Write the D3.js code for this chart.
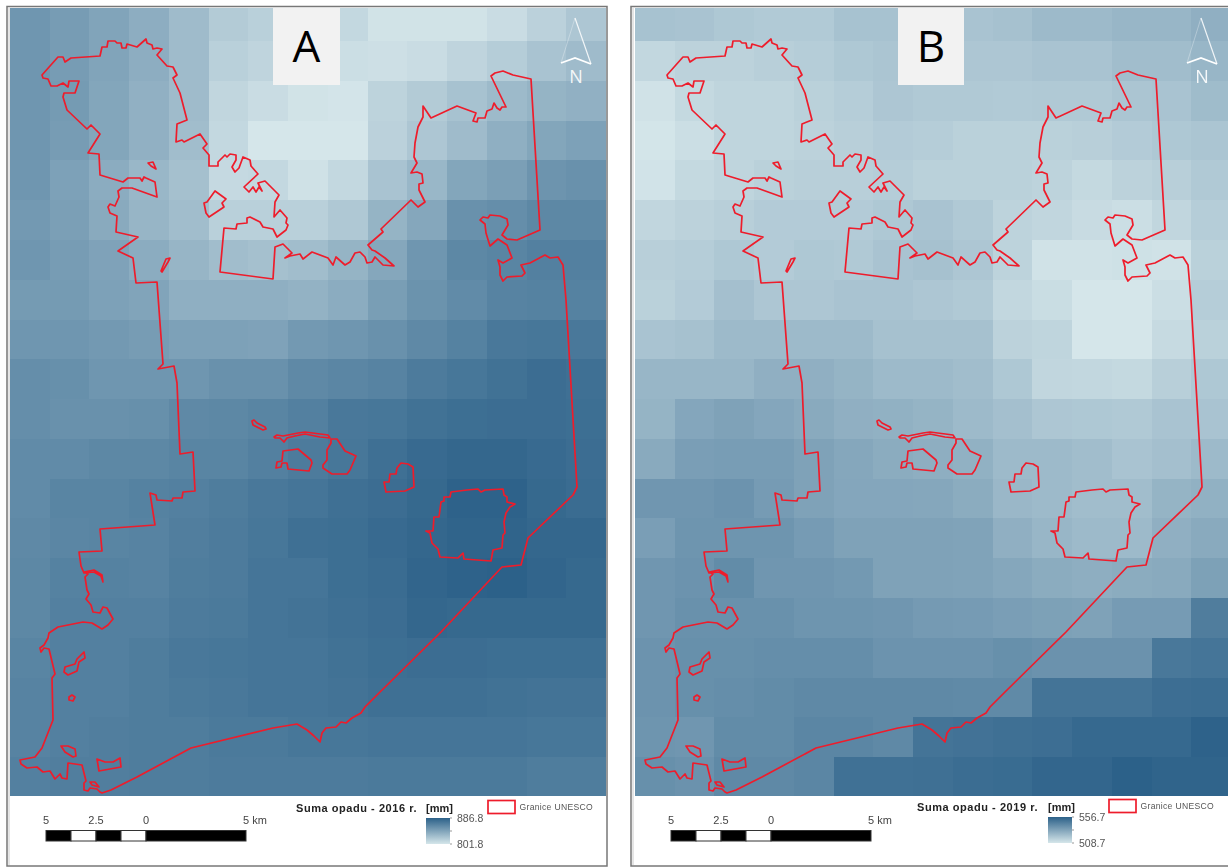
<!DOCTYPE html>
<html>
<head>
<meta charset="utf-8">
<script src="https://cdn.jsdelivr.net/npm/d3@7"></script>
<style>
  html, body { margin: 0; padding: 0; background: #fff; overflow: hidden; }
  svg { display: block; filter: blur(0.4px); }
  text { font-family: "Liberation Sans", Arial, sans-serif; }
</style>
</head>
<body>
<svg width="1228" height="867"></svg>
<script>
// precipitation totals per raster cell [mm], rows north to south
const rain2016 = [
  [853,849,844,838,829,819,816,813,811,804,804,804,808,815,822],
  [853,849,844,838,829,816,813,811,807,806,808,813,818,824,829],
  [853,850,843,836,829,812,808,804,803,814,819,825,830,834,836],
  [853,849,843,836,828,811,802,802,802,815,822,829,837,843,846],
  [853,846,839,832,826,810,811,805,811,824,832,843,847,854,856],
  [851,847,840,833,828,816,816,816,821,834,842,856,858,862,862],
  [853,849,845,839,833,828,826,828,834,842,853,862,864,867,867],
  [850,850,846,844,837,837,837,835,839,848,855,860,865,866,866],
  [853,853,851,849,846,846,845,851,853,856,861,866,872,873,872],
  [858,857,853,853,853,856,856,861,863,865,870,873,876,879,877],
  [858,856,856,857,861,862,864,867,872,873,876,878,879,879,878],
  [860,860,862,862,864,864,867,870,873,877,881,883,883,881,879],
  [860,864,864,866,867,869,872,874,877,879,882,886,886,882,880],
  [861,863,864,865,868,870,873,877,878,881,883,885,885,883,883],
  [862,866,866,865,869,870,874,874,878,880,884,886,887,884,882],
  [862,867,867,867,870,871,874,875,877,879,883,882,882,882,882],
  [864,867,867,869,872,873,874,874,876,878,879,879,878,878,878],
  [865,867,867,869,871,872,874,874,875,877,877,877,876,875,875],
  [865,867,868,869,869,871,871,873,873,874,874,874,874,873,873],
  [867,868,868,869,869,870,870,870,870,871,871,871,871,869,869]
]

const rain2019 = [
  [521.7,521.2,519.7,518.8,518.8,521.7,521.7,521.2,521.2,522.1,524.5,524.5,526,526,528.4],
  [514,515.9,515.9,516.9,517.8,519.7,520.7,520.7,520.2,520.2,521.2,521.2,523.6,523.6,526],
  [510.1,513.5,514.9,514.9,516.4,517.8,520.2,519.3,519.3,518.8,519.3,519.3,520.7,521.2,524],
  [509.2,511.6,514.9,514.9,515.9,516.9,518.3,517.8,516.4,516.4,516.4,516.9,518.3,519.7,520.7],
  [509.7,513.5,514.9,516.4,516.9,516.9,517.8,516.4,516.4,516.4,515.4,513.5,515.9,516.9,519.3],
  [514.5,515.9,516.9,518.3,518.3,518.3,519.7,521.2,519.3,515.4,514.5,512.5,511.6,514.5,517.8],
  [516.9,517.8,519.7,518.3,519.7,519.3,521.2,522.1,520.2,515.4,510.1,510.1,510.6,510.1,516.4],
  [516.4,518.3,522.6,520.2,520.2,521.2,521.2,520.2,519.3,514,512,508.7,508.7,511.6,517.8],
  [521.2,522.1,524.5,524.5,524.5,524.5,522.1,522.1,522.1,515.9,514.9,508.7,508.7,513,516.4],
  [526,526,526,528.4,528.4,526.9,524.5,524.5,523.6,519.7,514.5,514,513.5,516.9,519.7],
  [526.9,531.7,533.2,531.7,530.3,528.4,527.9,526.9,524.5,522.6,520.2,519.7,519.3,521.2,521.2],
  [530.3,534.6,535.1,535.1,533.2,531.3,529.8,528.9,527.9,524.5,524.5,523.6,521.2,522.6,524.5],
  [537.5,537.5,538.5,535.6,533.2,531.7,531.7,531.3,529.8,525.5,524.5,523.6,523.6,526.9,527.9],
  [534.6,538,538,538,535.6,533.2,533.2,533.2,532.7,528.4,526,524.5,524.5,528.4,530.3],
  [537.5,538.5,541.3,537.5,537.5,536.5,533.2,533.2,532.7,531.3,529.8,528.9,529.8,530.3,533.7],
  [537.5,539.4,539.4,539.4,538,538,537.5,536.1,535.6,534.6,533.7,533.2,535.6,535.6,546.6],
  [538.5,539.9,539.9,540.4,540.4,540.4,538.5,538.5,538.5,539.9,538.9,538.9,538.9,548.5,549.5],
  [538.5,539.9,540.4,541.3,542.3,542.3,542.3,542.3,541.8,541.8,550,550,550,551.9,552.4],
  [538,537.5,541.3,541.3,543.3,543.3,542.3,550,550.5,551.4,551.9,553.8,553.8,553.8,556.2],
  [539.9,538.9,542.3,542.3,543.3,550.9,550.9,551.4,552.4,552.9,554.8,554.8,556.7,555.7,555.7]
]

// UNESCO boundary rings, in map units (east, south) of the reference sheet
const outerBoundary = [
  [42,75],[58,57],[63,57],[65,62],[71,58],[100,56],[102,47],[107,47],[108,41],[115,41],[117,43],[121,43],[122,48],[126,48],[127,44],[137,47],[146,39],[147,43],[152,45],[153,49],[157,48],[162,49],[157,55],[167,66],[173,67],[177,75],[173,78],[180,93],[187,120],[177,124],[176,142],[182,140],[184,142],[200,134],[207,144],[203,148],[209,155],[209,166],[218,166],[218,162],[225,155],[227,157],[230,154],[236,155],[236,160],[232,167],[235,172],[239,168],[243,157],[250,160],[251,166],[258,174],[244,187],[249,192],[253,187],[256,192],[259,187],[262,191],[258,183],[265,181],[279,195],[275,202],[274,217],[280,210],[287,218],[286,223],[288,225],[286,230],[277,237],[273,229],[263,227],[260,222],[250,217],[247,218],[247,223],[237,224],[236,229],[224,228],[220,272],[273,279],[275,247],[283,244],[292,253],[285,258],[290,256],[300,254],[303,259],[312,252],[328,258],[333,265],[336,257],[345,265],[350,262],[355,253],[360,252],[365,257],[367,263],[372,262],[375,257],[380,262],[383,265],[394,266],[385,258],[375,251],[372,250],[368,245],[383,232],[381,229],[411,200],[418,207],[425,202],[419,190],[419,184],[423,183],[422,174],[417,172],[411,173],[417,163],[414,157],[415,143],[418,127],[423,117],[423,106],[431,118],[457,106],[476,113],[473,121],[477,122],[478,118],[485,118],[487,111],[492,109],[494,103],[497,108],[500,110],[502,107],[506,107],[491,76],[495,73],[503,71],[513,75],[531,79],[540,230],[517,240],[507,239],[502,235],[508,225],[507,219],[500,216],[490,215],[488,218],[483,217],[480,220],[485,224],[486,233],[490,246],[498,239],[507,245],[512,258],[503,263],[498,260],[500,267],[500,275],[503,281],[507,277],[522,276],[525,273],[521,265],[530,263],[545,255],[550,258],[558,257],[563,265],[566,300],[577,487],[573,495],[528,538],[521,565],[502,567],[441,632],[379,693],[365,707],[361,713],[352,718],[346,723],[341,722],[336,727],[326,728],[322,733],[320,742],[314,736],[307,730],[297,724],[273,728],[191,748],[137,777],[127,782],[111,790],[102,793],[100,792],[97,789],[90,788],[88,791],[84,790],[84,783],[86,781],[82,765],[68,763],[67,779],[62,778],[60,774],[55,779],[50,771],[43,772],[37,767],[27,768],[21,764],[20,760],[35,757],[42,748],[53,720],[52,678],[55,674],[49,649],[44,648],[41,652],[40,648],[44,645],[48,638],[49,633],[58,627],[83,622],[92,623],[102,629],[108,625],[113,619],[107,608],[103,607],[100,613],[93,612],[91,605],[86,599],[89,594],[87,590],[85,577],[88,574],[84,572],[94,570],[102,575],[103,582],[101,576],[94,572],[84,573],[81,566],[79,552],[102,551],[100,529],[155,525],[150,493],[156,495],[157,500],[172,501],[173,498],[182,498],[183,492],[195,491],[193,452],[180,454],[177,383],[174,366],[158,369],[163,364],[157,282],[136,283],[133,258],[118,251],[138,237],[116,232],[117,216],[110,213],[108,207],[110,204],[115,206],[119,197],[118,191],[122,188],[132,188],[157,197],[155,182],[146,178],[144,177],[142,181],[140,178],[128,178],[123,182],[100,175],[99,154],[88,153],[100,134],[91,125],[87,129],[67,110],[63,97],[64,93],[75,93],[79,81],[69,81],[68,87],[63,83],[57,86],[51,86],[48,79],[43,78]
]

const innerBoundaries = [
  [[148,163],[153,162],[156,169],[151,166]],
  [[204,203],[207,202],[215,191],[226,199],[222,203],[224,207],[209,217],[206,213]],
  [[161,271],[166,259],[170,258],[168,262],[162,272]],
  [[252,421],[254,420],[257,423],[265,427],[266,429],[263,430],[253,425]],
  [[274,437],[277,435],[283,436],[293,434],[298,433],[305,432],[328,435],[330,438],[320,437],[305,434],[295,436],[287,438],[284,442],[280,438],[275,438]],
  [[283,451],[298,449],[311,460],[312,463],[309,471],[288,469],[287,463],[282,463],[281,467],[276,468],[277,462],[282,461]],
  [[331,439],[337,439],[345,451],[356,456],[350,470],[347,474],[332,474],[323,468],[323,465],[327,460],[327,450],[331,443]],
  [[384,482],[389,482],[390,474],[396,474],[397,468],[401,463],[408,464],[413,467],[414,487],[405,491],[386,492]],
  [[451,492],[467,490],[478,489],[481,492],[485,490],[503,489],[504,495],[507,497],[507,502],[515,504],[510,507],[506,513],[504,522],[505,533],[503,535],[502,548],[493,550],[491,561],[464,559],[463,553],[458,558],[440,557],[438,549],[432,543],[430,533],[426,531],[433,531],[434,517],[439,517],[441,502],[444,501],[444,497],[450,497]],
  [[84,652],[85,658],[79,662],[77,671],[68,675],[64,672],[65,667],[75,664],[77,659]],
  [[69,697],[72,695],[75,697],[73,701],[69,700]],
  [[61,746],[68,746],[75,749],[76,756],[73,757],[65,752]],
  [[97,759],[105,762],[113,762],[120,758],[121,767],[99,771]],
  [[90,782],[95,782],[99,787],[92,785]]
]

const scaleStops = [-5, -3.75, -2.5, -1.25, 0, 5]
const scaleLabels = [[-5, "5"], [-2.5, "2.5"], [0, "0"], [5, "5 km"]]

const panels = [
  { id: "a", letter: "A", left: 10, frame: 7, frameRight: 607, letterBox: [273, 340], values: rain2016, domain: [801.8, 886.8],
    title: "Suma opadu - 2016 r.", titleX: 296, unitX: 426, rampX: 426, rampY: 818, legendY: 0, boxX: 488, north: 575, barX: 46 },
  { id: "b", letter: "B", left: 635, frame: 631, frameRight: 1240, letterBox: [898, 964], values: rain2019, domain: [508.7, 556.7],
    title: "Suma opadu - 2019 r.", titleX: 917, unitX: 1048, rampX: 1048, rampY: 817, legendY: -1, boxX: 1109, north: 1201, barX: 671 }
]

const svg = d3.select("svg")
const light = "#d5e6ea"
const dark = "#2c6189"
const red = "#ee1c2b"
const rasterTop = 8
const rasterBottom = 796
const rasterWidth = 596

const defs = svg.append("defs")
const gradient = defs.append("linearGradient")
  .attr("id", "ramp").attr("x1", 0).attr("x2", 0).attr("y1", 0).attr("y2", 1)
gradient.append("stop").attr("offset", 0).attr("stop-color", dark)
gradient.append("stop").attr("offset", 1).attr("stop-color", light)

panels.forEach(p => {
  const g = svg.append("g")

  // frame
  g.append("rect")
    .attr("x", p.frame).attr("y", 6.5)
    .attr("width", p.frameRight - p.frame).attr("height", 859.5)
    .attr("fill", "#fff").attr("stroke", "#777").attr("stroke-width", 1.5)
  g.append("line")
    .attr("x1", p.frame + 2).attr("x2", p.frame + 2).attr("y1", 8).attr("y2", 865)
    .attr("stroke", "#ccc").attr("stroke-width", 1)

  defs.append("clipPath").attr("id", `clip-${p.id}`)
    .append("rect")
    .attr("x", p.left).attr("y", rasterTop)
    .attr("width", rasterWidth).attr("height", rasterBottom - rasterTop)

  const color = d3.scaleSequential(d3.interpolateRgb(light, dark)).domain(p.domain)
  const colX = d3.scaleLinear().domain([0, 15]).range([p.left, p.left + rasterWidth])
  const rowY = d3.scaleLinear().domain([1, 20]).range([41, 797])
  const mapX = d3.scaleLinear().domain([10, 606]).range([p.left, p.left + rasterWidth])
  const mapY = d3.scaleLinear().domain([8, 796]).range([rasterTop, rasterBottom])

  const map = g.append("g").attr("clip-path", `url(#clip-${p.id})`)

  const cells = p.values.flatMap((row, r) => row.map((v, c) => ({ r, c, v })))
  map.selectAll("rect.cell")
    .data(cells)
    .join("rect")
    .attr("class", "cell")
    .attr("x", d => Math.round(colX(d.c)))
    .attr("y", d => Math.round(rowY(d.r)))
    .attr("width", d => Math.round(colX(d.c + 1)) - Math.round(colX(d.c)))
    .attr("height", d => Math.round(rowY(d.r + 1)) - Math.round(rowY(d.r)))
    .attr("shape-rendering", "crispEdges")
    .attr("fill", d => color(d.v))

  const line = d3.line().x(d => mapX(d[0])).y(d => mapY(d[1])).curve(d3.curveLinearClosed)
  map.selectAll("path.boundary")
    .data([outerBoundary, ...innerBoundaries])
    .join("path")
    .attr("class", "boundary")
    .attr("d", line)
    .attr("fill", "none")
    .attr("stroke", red)
    .attr("stroke-width", 1.7)
    .attr("stroke-linejoin", "round")

  // letter plate
  g.append("rect")
    .attr("x", p.letterBox[0]).attr("y", rasterTop)
    .attr("width", p.letterBox[1] - p.letterBox[0]).attr("height", 77)
    .attr("fill", "#f2f2f2")
  g.append("text")
    .attr("x", (p.letterBox[0] + p.letterBox[1]) / 2).attr("y", 62)
    .attr("text-anchor", "middle")
    .style("font-family", "'Open Sans', sans-serif")
    .style("font-size", "44px")
    .attr("fill", "#000")
    .text(p.letter)

  // north arrow
  const n = g.append("g").attr("transform", `translate(${p.north}, 0)`)
  n.append("path").attr("d", "M0,18 L-14,63").attr("fill", "none").attr("stroke", "#fff").attr("stroke-opacity", 0.3).attr("stroke-width", 1)
  n.append("path").attr("d", "M0,18 L16,64").attr("fill", "none").attr("stroke", "#fff").attr("stroke-opacity", 0.85).attr("stroke-width", 1.2)
  n.append("path").attr("d", "M-14,63 L0,58 L16,64").attr("fill", "none").attr("stroke", "#fff").attr("stroke-width", 1.8)
  n.append("text")
    .attr("x", 1).attr("y", 83)
    .attr("text-anchor", "middle")
    .style("font-family", "'Open Sans', sans-serif")
    .style("font-size", "18px")
    .attr("fill", "#fff")
    .attr("fill-opacity", 0.9)
    .text("N")

  // scale bar
  const km = d3.scaleLinear().domain([-5, 5]).range([p.barX, p.barX + 200])
  const segs = d3.pairs(scaleStops)
  g.selectAll("rect.seg")
    .data(segs)
    .join("rect")
    .attr("class", "seg")
    .attr("x", d => km(d[0]))
    .attr("y", 830.5)
    .attr("width", d => km(d[1]) - km(d[0]))
    .attr("height", 10.5)
    .attr("fill", (d, i) => i % 2 === 0 ? "#000" : "#fff")
    .attr("stroke", "#333")
    .attr("stroke-width", 1)
  g.selectAll("text.km")
    .data(scaleLabels)
    .join("text")
    .attr("class", "km")
    .attr("x", d => km(d[0]))
    .attr("dx", d => d[1] === "5 km" ? -3 : 0)
    .attr("y", 824)
    .attr("text-anchor", d => d[1] === "5 km" ? "start" : "middle")
    .style("font-size", "11px")
    .attr("fill", "#444")
    .text(d => d[1])

  // legend
  const ly = p.legendY
  g.append("text")
    .attr("x", p.titleX).attr("y", 812 + ly)
    .style("font-size", "11px").style("font-weight", "bold")
    .style("letter-spacing", "0.55px")
    .attr("fill", "#222")
    .text(p.title)
  g.append("text")
    .attr("x", p.unitX).attr("y", 812 + ly)
    .style("font-size", "11px").style("font-weight", "bold")
    .attr("fill", "#222")
    .text("[mm]")
  g.append("rect")
    .attr("x", p.rampX).attr("y", p.rampY)
    .attr("width", 24).attr("height", 26)
    .attr("fill", "url(#ramp)")
  const rampScale = d3.scaleLinear().domain(p.domain).range([p.rampY + 26, p.rampY])
  g.selectAll("line.tick")
    .data([p.domain[0], d3.mean(p.domain), p.domain[1]])
    .join("line")
    .attr("class", "tick")
    .attr("x1", p.rampX + 24).attr("x2", p.rampX + 26)
    .attr("y1", d => rampScale(d)).attr("y2", d => rampScale(d))
    .attr("stroke", "#999")
  g.selectAll("text.rampLabel")
    .data(p.domain)
    .join("text")
    .attr("class", "rampLabel")
    .attr("x", p.rampX + 31)
    .attr("y", d => rampScale(d) + 3.5)
    .style("font-size", "10.5px")
    .attr("fill", "#555")
    .text(d => d.toFixed(1))
  g.append("rect")
    .attr("x", p.boxX).attr("y", 800.5 + ly)
    .attr("width", 27).attr("height", 13)
    .attr("fill", "#fff").attr("stroke", red).attr("stroke-width", 1.7)
  g.append("text")
    .attr("x", p.boxX + 31.5).attr("y", 810 + ly)
    .style("font-size", "8.6px")
    .style("letter-spacing", "0.3px")
    .attr("fill", "#555")
    .text("Granice UNESCO")
})
</script>
</body>
</html>
